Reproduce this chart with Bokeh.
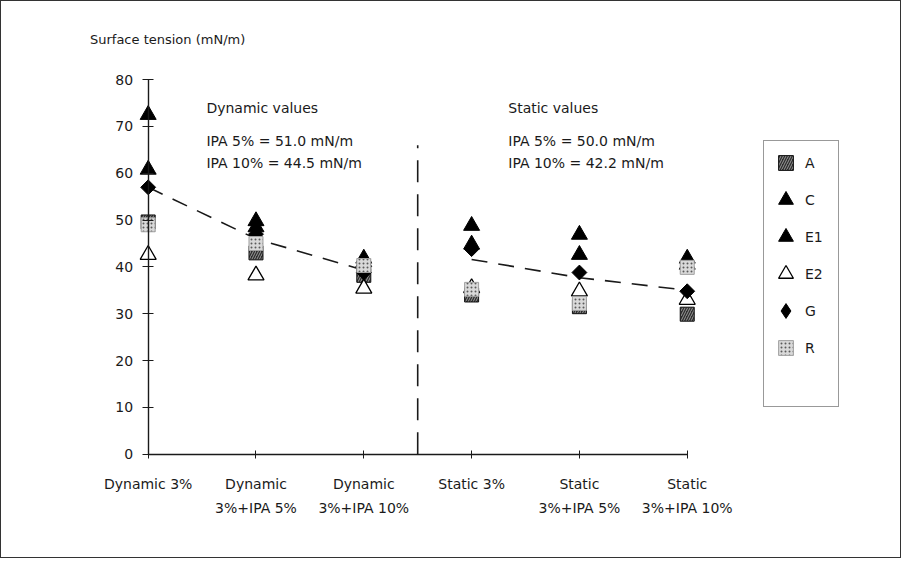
import math
from bokeh.plotting import figure
from bokeh.models import (Range1d, FixedTicker, Label, Legend, LegendItem,
                          ColumnDataSource, LinearAxis)
from bokeh.embed import file_html
from bokeh.resources import INLINE

# ---------------- data ----------------
categories = ["Dynamic 3%", "Dynamic\n3%+IPA 5%", "Dynamic\n3%+IPA 10%",
              "Static 3%", "Static\n3%+IPA 5%", "Static\n3%+IPA 10%"]
series_names = ["A", "C", "E1", "E2", "G", "R"]
A_vals = [49.6, 43.0, 38.2, 34.0, 31.5, 29.9]
C_vals = [72.5, 49.8, 41.8, 48.8, 46.9, 41.8]
E1_vals = [60.8, 48.5, 41.0, 44.8, 42.6, 40.5]
E2_vals = [42.6, 38.2, 35.4, 35.5, 34.8, 33.0]
G_vals = [57.0, 47.0, 38.8, 43.8, 38.8, 34.8]
R_vals = [49.0, 45.0, 40.3, 35.2, 32.2, 39.9]
trend_dynamic = [57.0, 46.0, 39.3]
trend_static = [41.6, 37.7, 35.0]
n_dynamic = 3
divider_top = 66
y_ticks = [0, 10, 20, 30, 40, 50, 60, 70, 80]
y_max = 80
y_label = "Surface tension (mN/m)"
dynamic_texts = ["Dynamic values", "IPA 5% = 51.0 mN/m", "IPA 10% = 44.5 mN/m"]
static_texts = ["Static values", "IPA 5% = 50.0 mN/m", "IPA 10% = 42.2 mN/m"]
text_levels = [74.0, 67.0, 62.3]

FONT = "DejaVu Sans"
INK = "#1a1a1a"

x_pos = list(range(len(categories)))
x_last = len(categories) - 1

p = figure(width=901, height=558, output_backend="svg", toolbar_location=None,
           x_range=Range1d(-0.6, 6.7), y_range=Range1d(-2, 92),
           min_border_left=82, min_border_right=32, min_border_top=22, min_border_bottom=96,
           background_fill_color="white", border_fill_color="white")
p.styles = {"border": "1px solid #333"}
p.outline_line_color = None
p.xgrid.visible = False
p.ygrid.visible = False

# x axis used only for the category labels (sits at the frame bottom)
xl = p.xaxis[0]
xl.ticker = FixedTicker(ticks=x_pos)
xl.major_label_overrides = {i: c for i, c in enumerate(categories)}
xl.axis_line_color = None
xl.major_tick_line_color = None
xl.minor_tick_line_color = None
xl.major_tick_out = 0
xl.major_tick_in = 0
xl.major_label_text_font = FONT
xl.major_label_text_font_size = "14px"
xl.major_label_text_color = INK
xl.major_label_text_line_height = 1.5
xl.major_label_standoff = 12

# x axis line through y = 0 (labels come from the axis above)
xa = LinearAxis(fixed_location=0, ticker=FixedTicker(ticks=x_pos), bounds=(0, x_last),
                axis_line_color=INK, axis_line_width=1.4, major_tick_line_color=INK,
                major_tick_in=4, major_tick_out=4, minor_tick_line_color=None,
                major_label_text_color=None, major_label_standoff=0)
p.add_layout(xa, "below")

# y axis through x = 0 (first category)
ya = p.yaxis[0]
ya.fixed_location = 0
ya.ticker = FixedTicker(ticks=y_ticks)
ya.bounds = (0, y_max)
ya.minor_tick_line_color = None
ya.major_tick_in = 5
ya.major_tick_out = 6
ya.axis_line_color = INK
ya.axis_line_width = 1.4
ya.major_tick_line_color = INK
ya.major_label_text_font = FONT
ya.major_label_text_font_size = "14px"
ya.major_label_text_color = INK
ya.major_label_standoff = 9

# divider and trend lines
p.segment(x0=[n_dynamic - 0.5], y0=[0], x1=[n_dynamic - 0.5], y1=[divider_top],
          line_color=INK, line_width=1.6, line_dash="22 12")
p.line(x=x_pos[:n_dynamic], y=trend_dynamic, line_color=INK, line_width=1.6, line_dash="16 11")
p.line(x=x_pos[n_dynamic:], y=trend_static, line_color=INK, line_width=1.6, line_dash="16 11")

# series
styles = {
    "A": dict(marker="square", size=14, fill_color="#2e2e2e", line_color="#111",
              hatch_pattern="/", hatch_color="#9a9a9a", hatch_scale=5, hatch_weight=1),
    "C": dict(marker="triangle", size=16, fill_color="black", line_color="black"),
    "E1": dict(marker="triangle", size=16, fill_color="black", line_color="black"),
    "E2": dict(marker="triangle", size=16, fill_color="white", line_color="black", line_width=1.3),
    "G": dict(marker="square", size=10.5, angle=math.pi / 4, fill_color="black", line_color="black"),
    "R": dict(marker="square", size=14, fill_color="#d9d9d9", line_color="#a0a0a0",
              hatch_pattern=".", hatch_color="#5a5a5a", hatch_scale=4, hatch_weight=1),
}
vals = {"A": A_vals, "C": C_vals, "E1": E1_vals, "E2": E2_vals, "G": G_vals, "R": R_vals}
nan = float("nan")
items = []
for name in series_names:
    src = ColumnDataSource(dict(x=x_pos, y=vals[name]))
    r = p.scatter(x="x", y="y", source=src, **styles[name])
    if name == "G":
        # legends never rotate markers, so show G with a diamond glyph (no point in the plot)
        r_leg = p.scatter(x=[nan], y=[nan], marker="diamond", fill_color="black", line_color="black")
        items.append(LegendItem(label=name, renderers=[r_leg]))
    else:
        items.append(LegendItem(label=name, renderers=[r]))

blank = p.scatter(x=[nan], y=[nan], size=1, fill_alpha=0, line_alpha=0)
items.append(LegendItem(label=" ", renderers=[blank]))

legend = Legend(items=items, location=(680, 56), glyph_height=37, glyph_width=37,
                label_height=37, label_width=30, spacing=0, padding=3, margin=0,
                label_standoff=1, border_line_color="#333", border_line_width=1,
                background_fill_color="white", label_text_font=FONT,
                label_text_font_size="14px", label_text_color=INK)
p.add_layout(legend)

# texts
for txt, lev in zip(dynamic_texts, text_levels):
    p.add_layout(Label(x=0.54, y=lev, text=txt, text_font=FONT, text_font_size="14px",
                       text_color=INK, text_baseline="middle", text_align="left"))
for txt, lev in zip(static_texts, text_levels):
    p.add_layout(Label(x=3.34, y=lev, text=txt, text_font=FONT, text_font_size="14px",
                       text_color=INK, text_baseline="middle", text_align="left"))
p.add_layout(Label(x=-0.54, y=88.5, text=y_label, text_font=FONT, text_font_size="13px",
                   text_color=INK, text_baseline="middle", text_align="left"))

open("out.html", "w").write(file_html(p, INLINE))
